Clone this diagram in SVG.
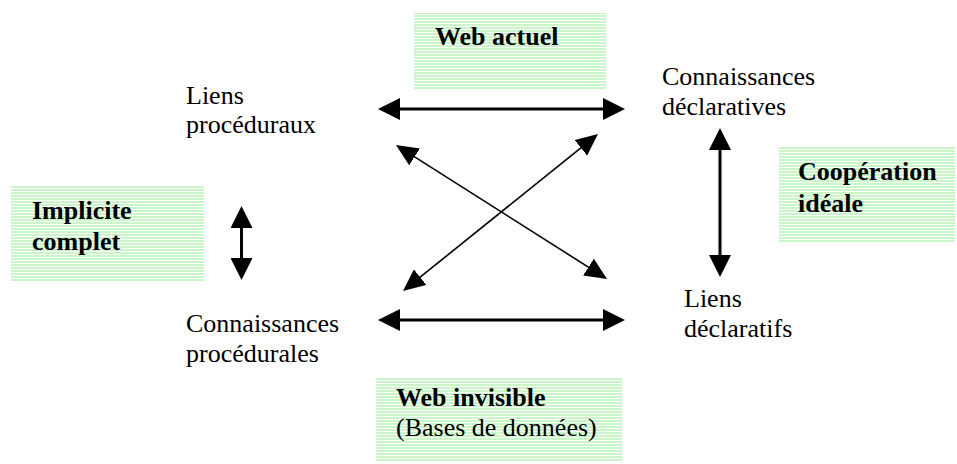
<svg xmlns="http://www.w3.org/2000/svg" width="957" height="464" viewBox="0 0 957 464">
<defs>
<pattern id="stripes" width="6" height="3" patternUnits="userSpaceOnUse">
<rect width="6" height="3" fill="#ffffff"/>
<rect width="6" height="2" fill="#c9f5c9"/>
</pattern>
<marker id="big" viewBox="0 0 22 22" markerUnits="userSpaceOnUse" markerWidth="22" markerHeight="22" refX="12" refY="11" orient="auto-start-reverse">
<path d="M0,0 L22,11 L0,22 z" fill="#000"/>
</marker>
<marker id="med" viewBox="0 0 22 20" markerUnits="userSpaceOnUse" markerWidth="22" markerHeight="20" refX="12" refY="10" orient="auto-start-reverse">
<path d="M0,0 L22,10 L0,20 z" fill="#000"/>
</marker>
</defs>
<style>
.box{fill:url(#stripes);}
.t{font-family:"Liberation Serif","Times New Roman",serif;font-size:26px;fill:#000;}
.b{font-weight:bold;}
.thick{stroke:#000;stroke-width:3;fill:none;marker-start:url(#big);marker-end:url(#big);}
.thin{stroke:#000;stroke-width:1.6;fill:none;marker-start:url(#med);marker-end:url(#med);}
</style>
<rect width="957" height="464" fill="#fff"/>

<g id="web-actuel">
<rect class="box" x="414" y="13" width="192" height="76"/>
<text class="t b" x="435" y="45">Web actuel</text>
</g>
<g id="implicite-complet">
<rect class="box" x="11" y="186" width="193" height="95"/>
<text class="t b" x="32" y="219">Implicite</text>
<text class="t b" x="32" y="250">complet</text>
</g>
<g id="cooperation-ideale">
<rect class="box" x="779" y="147" width="176" height="96"/>
<text class="t b" x="798" y="180">Coopération</text>
<text class="t b" x="798" y="212">idéale</text>
</g>
<g id="web-invisible">
<rect class="box" x="376" y="377" width="246" height="85"/>
<text class="t b" x="396" y="406">Web invisible</text>
<text class="t" x="396" y="436">(Bases de données)</text>
</g>
<g id="liens-proceduraux">
<text class="t" x="186" y="104">Liens</text>
<text class="t" x="186" y="133">procéduraux</text>
</g>
<g id="connaissances-declaratives">
<text class="t" x="662" y="85">Connaissances</text>
<text class="t" x="662" y="115">déclaratives</text>
</g>
<g id="connaissances-procedurales">
<text class="t" x="186" y="332">Connaissances</text>
<text class="t" x="186" y="362">procédurales</text>
</g>
<g id="liens-declaratifs">
<text class="t" x="684" y="307">Liens</text>
<text class="t" x="684" y="337">déclaratifs</text>
</g>

<g id="connectors">
<line class="thick" x1="388" y1="109" x2="615" y2="109"/>
<line class="thick" x1="388" y1="320" x2="615" y2="320"/>
<line class="thick" x1="241.5" y1="216" x2="241.5" y2="270"/>
<line class="thick" x1="720" y1="138" x2="720" y2="267"/>
<line class="thin" x1="404.4" y1="150.4" x2="598.6" y2="273.6"/>
<line class="thin" x1="590.2" y1="140.3" x2="410.8" y2="284.7"/>
</g>
</svg>
